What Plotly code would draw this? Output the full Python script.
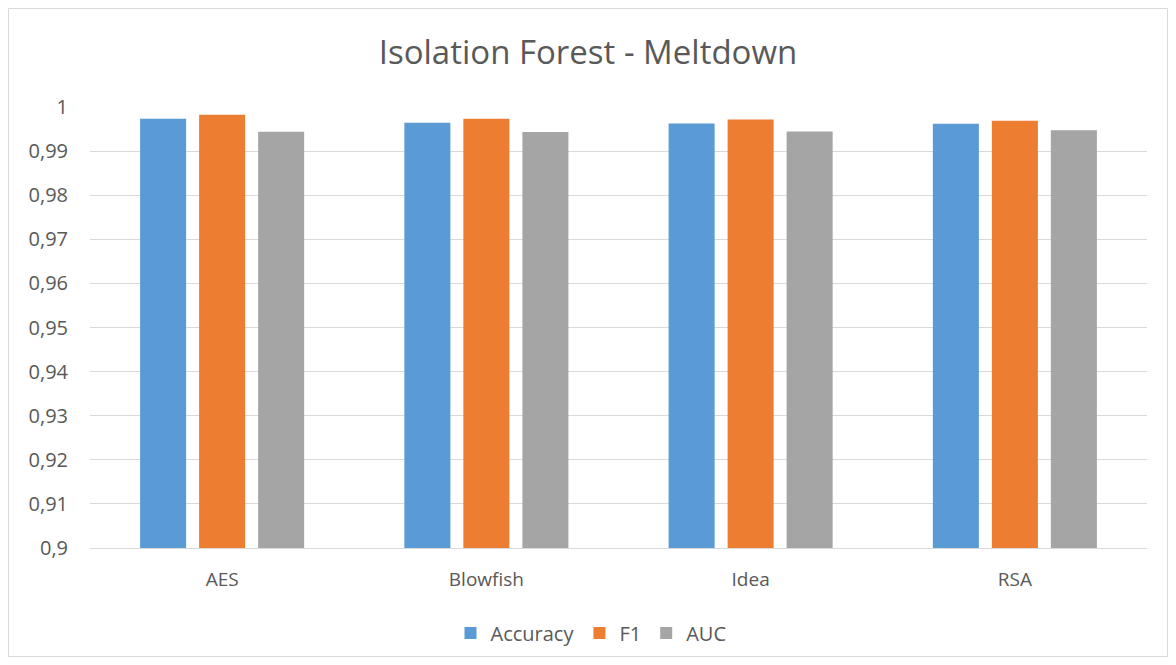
import plotly.graph_objects as go

# Detection metrics per cipher implementation
categories = ["AES", "Blowfish", "Idea", "RSA"]
accuracy = [0.99735, 0.99644, 0.99628, 0.99621]
f1 = [0.99825, 0.99735, 0.99719, 0.99689]
auc = [0.99440, 0.99433, 0.99447, 0.99470]

W, H = 1176, 665
L, R, T, B = 90, 29, 107, 117
FONT = "'Open Sans', sans-serif"
TXT = "#595959"

fig = go.Figure()
for name, vals, color in [("Accuracy", accuracy, "#5B9BD5"),
                          ("F1", f1, "#ED7D31"),
                          ("AUC", auc, "#A5A5A5")]:
    fig.add_trace(go.Bar(x=categories, y=vals, name=name,
                         marker=dict(color=color, line=dict(width=0))))

# outer chart border, expressed in paper coordinates
pw, ph = W - L - R, H - T - B
def px_x(x):
    return (x - L) / pw
def px_y(y):
    return (H - B - y) / ph

fig.add_shape(type="rect", xref="paper", yref="paper",
              x0=px_x(8.5), x1=px_x(1167.5), y0=px_y(656.5), y1=px_y(8.5),
              line=dict(color="#D9D9D9", width=1), fillcolor="rgba(0,0,0,0)",
              layer="below")

fig.update_layout(
    width=W, height=H,
    margin=dict(l=L, r=R, t=T, b=B),
    paper_bgcolor="white", plot_bgcolor="white",
    separators=", ",
    barmode="group", bargap=0.33, bargroupgap=0.22,
    title=dict(text="Isolation Forest - Meltdown", x=0.5, xanchor="center",
               y=1 - 52 / H, yanchor="middle", yref="container",
               font=dict(family=FONT, size=33, color=TXT)),
    font=dict(family=FONT, size=19, color=TXT),
    legend=dict(orientation="h", x=px_x(591), xanchor="center",
                y=px_y(633), yanchor="middle",
                font=dict(family=FONT, size=20, color=TXT),
                itemwidth=30, tracegroupgap=0, traceorder="normal"),
    xaxis=dict(showgrid=False, showline=True, linecolor="#D9D9D9", linewidth=1,
               ticks="", ticklabelstandoff=14,
               tickfont=dict(family=FONT, size=19, color=TXT)),
    yaxis=dict(range=[0.9, 1.0], dtick=0.01, tick0=0.9, tickformat="~r",
               showgrid=True, gridcolor="#D9D9D9", gridwidth=1,
               zeroline=False, showline=False, ticks="", ticklabelstandoff=21,
               tickfont=dict(family=FONT, size=20, color=TXT)),
)

fig.write_html("out.html")
